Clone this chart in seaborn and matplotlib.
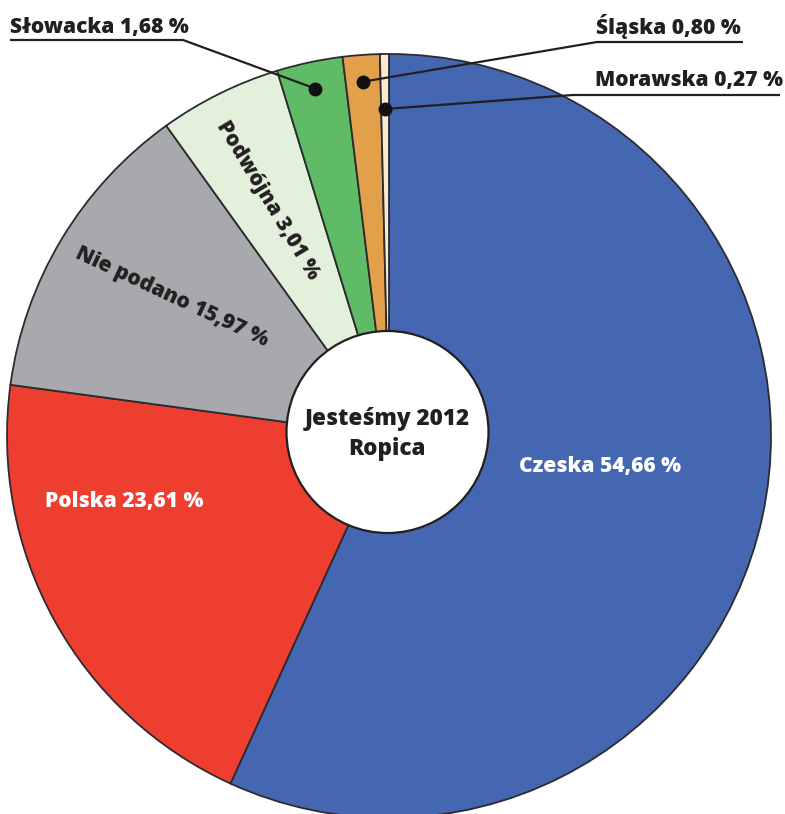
import numpy as np
import matplotlib
matplotlib.use("Agg")
import matplotlib.pyplot as plt
import seaborn as sns

categories = ["Czeska", "Polska", "Nie podano", "Podwójna", "Słowacka", "Śląska", "Morawska"]
percent = [54.66, 23.61, 15.97, 3.01, 1.68, 0.80, 0.27]
# angular share of each slice as drawn in the picture
slice_share = [56.81, 20.33, 12.95, 5.18, 2.79, 1.56, 0.38]
colors = ["#4566b0", "#ee3e2f", "#a8a9ad", "#e3f0dc", "#5fbb66", "#e2a04a", "#fbe9d0"]
center_title = "Jesteśmy 2012\nRopica"

sns.set_theme(style="white")
plt.rcParams["font.family"] = ["Open Sans", "DejaVu Sans"]

W, H = 785, 814
CX, CY, R = 389, 436, 382

def px(x, y):
    return ((x - CX) / R, (CY - y) / R)

fig = plt.figure(figsize=(W / 100, H / 100), dpi=100)
ax = fig.add_axes([0, 0, 1, 1])
wedges, _ = ax.pie(slice_share, colors=colors, startangle=90, counterclock=False,
                   radius=1.0, wedgeprops=dict(edgecolor="#2b2b30", linewidth=1.3))
ax.set_aspect("auto")
ax.set_xlim(-CX / R, (W - CX) / R)
ax.set_ylim((CY - H) / R, CY / R)
ax.axis("off")

FW = 800
# centre circle
cc = px(387.5, 432)
circ = plt.Circle(cc, 101 / R, facecolor="white", edgecolor="#231f20", linewidth=1.6, zorder=5)
ax.add_patch(circ)
ax.text(*px(387.5, 434), center_title, ha="center", va="center", fontsize=16.2, fontweight=FW,
        color="#231f20", zorder=6, linespacing=1.35)

def lab(i):
    return f"{categories[i]} {percent[i]:.2f} %".replace(".", ",")

fs = 15.1
# inside labels
ax.text(*px(600, 467), lab(0), ha="center", va="center", color="white", fontsize=fs, fontweight=FW)
ax.text(*px(124, 502), lab(1), ha="center", va="center", color="white", fontsize=fs, fontweight=FW)
ax.text(*px(172, 297), lab(2), ha="center", va="center", color="#231f20", fontsize=fs,
        fontweight=FW, rotation=-25, rotation_mode="anchor")
ax.text(*px(268, 200), lab(3), ha="center", va="center", color="#231f20", fontsize=fs,
        fontweight=FW, rotation=-59, rotation_mode="anchor")

# outside labels with leader lines
def mid_point(w, rr):
    th = np.deg2rad((w.theta1 + w.theta2) / 2)
    return rr * np.cos(th), rr * np.sin(th)

leaders = [
    (4, 0.93, (10, 33), "left", [(10, 40), (183, 40)]),
    (5, 0.93, (741, 34), "right", [(743, 42), (597, 42)]),
    (6, 0.856, (783, 86), "right", [(780, 95), (573, 95)]),
]
for i, rr, (tx, ty), ha, under in leaders:
    ax.text(*px(tx, ty), lab(i), ha=ha, va="baseline", color="#231f20", fontsize=fs, fontweight=FW)
    dx, dy = mid_point(wedges[i], rr)
    pts = [px(*p) for p in under] + [(dx, dy)]
    ax.plot([p[0] for p in pts], [p[1] for p in pts], color="#231f20", lw=1.6, zorder=7,
            solid_capstyle="butt")
    ax.plot([dx], [dy], "o", color="#111111", ms=9, zorder=8)

fig.savefig("out.png", dpi=100, facecolor="white")
